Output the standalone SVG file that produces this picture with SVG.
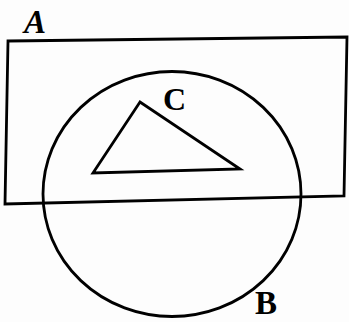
<svg xmlns="http://www.w3.org/2000/svg" width="349" height="322" viewBox="0 0 349 322">
<style>
.s{fill:none;stroke:#000;stroke-width:2.8;stroke-linejoin:miter}
.l{font-family:"Liberation Serif",serif;font-weight:bold;fill:#000}
</style>
<rect width="349" height="322" fill="#fdfdfd"/>
<g id="A">
<polygon class="s" points="8,41 347,37 344,196 5,204"/>
<text class="l" x="24" y="33" font-size="33" font-style="italic">A</text>
</g>
<g id="B">
<ellipse class="s" cx="172" cy="194" rx="129" ry="122.5"/>
<text class="l" x="255" y="314" font-size="33">B</text>
</g>
<g id="C">
<polygon class="s" points="140,102 93,173 240,169"/>
<text class="l" x="163" y="110" font-size="32">C</text>
</g>
<g id="connectors"/>
</svg>
